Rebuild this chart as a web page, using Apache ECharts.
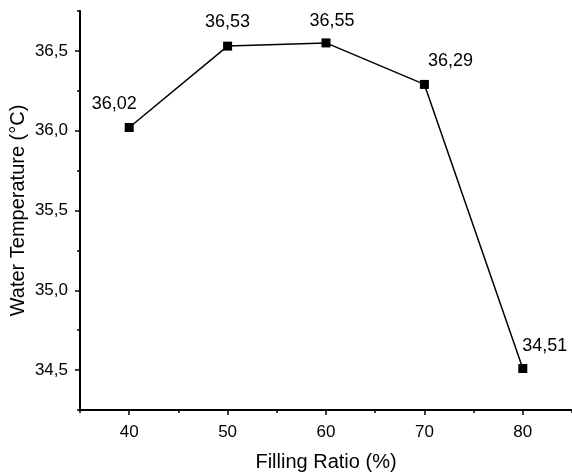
<!DOCTYPE html>
<html>
<head>
<meta charset="utf-8">
<script src="https://cdn.jsdelivr.net/npm/echarts@6/dist/echarts.min.js"></script>
<style>
  html, body { margin: 0; padding: 0; background: #fff; }
  #chart { width: 572px; height: 472px; }
</style>
</head>
<body>
<div id="chart"></div>
<script>
// filling ratio (%) and water temperature (°C)
var ratios = [40, 50, 60, 70, 80];
var temps = [36.02, 36.53, 36.55, 36.29, 34.51];
var xTicks = [40, 50, 60, 70, 80];
var xMinorTicks = [35, 45, 55, 65, 75, 85];
var yTicks = [34.5, 35.0, 35.5, 36.0, 36.5];
var yMinorTicks = [34.25, 34.75, 35.25, 35.75, 36.25, 36.75];

// label nudges, per point
var labelOffsets = [[-15, -5], [0, -6], [6, -3], [26, -5], [22, -4]];

var font = 'Liberation Sans, Arial, sans-serif';
var black = '#000';

function comma(v, d) {
  return v.toFixed(d).replace('.', ',');
}

var points = [];
for (var i = 0; i < ratios.length; i++) {
  points.push({
    value: [ratios[i], temps[i]],
    label: { offset: labelOffsets[i] }
  });
}

var chart = echarts.init(document.getElementById('chart'));
chart.setOption({
  animation: false,
  grid: { left: 80, right: 0, top: 11, bottom: 62, outerBoundsMode: 'none', containLabel: false },
  xAxis: [{
    type: 'value',
    position: 'bottom',
    min: 35,
    max: 85,
    name: 'Filling Ratio (%)',
    nameLocation: 'middle',
    nameGap: 42,
    nameTextStyle: { fontFamily: font, fontSize: 20, color: black },
    axisLine: { lineStyle: { color: black, width: 2 } },
    axisTick: { customValues: xTicks, length: 5, lineStyle: { color: black, width: 1.5 } },
    axisLabel: {
      customValues: xTicks,
      margin: 14,
      fontFamily: font, fontSize: 17, color: black
    },
    splitLine: { show: false }
  }, {
    type: 'value',
    position: 'bottom',
    min: 35,
    max: 85,
    axisLine: { show: false },
    axisTick: { customValues: xMinorTicks, length: 3, lineStyle: { color: black, width: 1.5 } },
    axisLabel: { show: false },
    splitLine: { show: false }
  }],
  yAxis: [{
    type: 'value',
    position: 'left',
    min: 34.25,
    max: 36.75,
    name: 'Water Temperature (°C)',
    nameLocation: 'middle',
    nameGap: 52,
    nameMoveOverlap: false,
    nameTextStyle: { fontFamily: font, fontSize: 20, color: black },
    axisLine: { show: true, lineStyle: { color: black, width: 2 } },
    axisTick: { show: true, customValues: yTicks, length: 5, lineStyle: { color: black, width: 1.5 } },
    axisLabel: {
      customValues: yTicks,
      margin: 12,
      fontFamily: font, fontSize: 17, color: black,
      formatter: function (v) { return comma(v, 1); }
    },
    splitLine: { show: false }
  }, {
    type: 'value',
    position: 'left',
    min: 34.25,
    max: 36.75,
    axisLine: { show: false },
    axisTick: { show: true, customValues: yMinorTicks, length: 3, lineStyle: { color: black, width: 1.5 } },
    axisLabel: { show: false },
    splitLine: { show: false }
  }],
  series: [{
    type: 'line',
    xAxisIndex: 0,
    yAxisIndex: 0,
    data: points,
    symbol: 'rect',
    symbolSize: 9,
    lineStyle: { color: black, width: 1.5 },
    itemStyle: { color: black },
    label: {
      show: true,
      position: 'top',
      fontFamily: font,
      fontSize: 18,
      color: black,
      formatter: function (p) { return comma(p.value[1], 2); }
    }
  }]
});
</script>
</body>
</html>
